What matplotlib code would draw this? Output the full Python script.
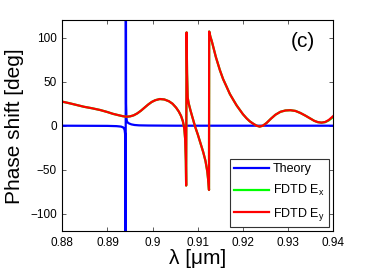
import numpy as np
import matplotlib
matplotlib.use("Agg")
import matplotlib.pyplot as plt

# ---- data ----
theory_wl = [0.8800, 0.8900, 0.8920, 0.8930, 0.8935, 0.8937, 0.8938, 0.89390, 0.89398,
             0.89403, 0.89405, 0.89412, 0.8942, 0.8943, 0.8945, 0.8948, 0.8953,
             0.8960, 0.8970, 0.8990, 0.9050, 0.9400]
theory_phase = [0.0, -0.2, -0.5, -1.0, -2.0, -3.5, -5.0, -9.0, -25.0,
                -300.0, 300.0, 25.0, 9.0, 5.0, 3.5, 2.5, 1.5,
                0.8, 0.4, 0.2, 0.0, 0.0]

ey_wl = [0.8800, 0.8816, 0.8832, 0.8848, 0.8866, 0.8884, 0.8900, 0.8912, 0.8924, 0.8934,
         0.8942, 0.8950, 0.8958, 0.8966, 0.8974, 0.8982, 0.8990, 0.8998, 0.9006, 0.9016,
         0.9026, 0.9036, 0.9044, 0.9052, 0.9058, 0.9063, 0.9067, 0.9070, 0.9072, 0.90735,
         0.90742, 0.90752, 0.90762, 0.90776, 0.9080, 0.9084, 0.9089, 0.9094, 0.9100,
         0.9106, 0.9112, 0.9117, 0.9121, 0.91235, 0.91248, 0.91252, 0.9128, 0.9131,
         0.9134, 0.9140, 0.9149, 0.9156, 0.9164, 0.9171, 0.9179, 0.9186, 0.9193, 0.9200,
         0.9208, 0.9215, 0.9222, 0.9230, 0.9237, 0.9244, 0.9252, 0.9262, 0.9272, 0.9283,
         0.9294, 0.9305, 0.9316, 0.9327, 0.9338, 0.9348, 0.9358, 0.9366, 0.9374, 0.9382,
         0.9390, 0.9400]
ey_phase = [27.3, 25.5, 23.5, 21.5, 19.8, 17.8, 15.5, 13.5, 12.0, 10.8,
            10.2, 10.6, 11.8, 14.0, 17.0, 20.5, 24.0, 27.0, 29.0, 30.3,
            29.8, 27.8, 25.0, 20.5, 16.0, 11.0, 5.0, -3.0, -15.0, -40.0,
            -68.0, 106.0, 60.0, 32.0, 25.0, 17.0, 8.0, -1.0, -10.0,
            -20.0, -30.0, -40.0, -52.0, -64.0, -73.0, 107.0, 101.0, 96.0,
            90.0, 78.0, 63.0, 53.0, 44.0, 36.0, 29.0, 23.0, 18.0, 13.0,
            8.4, 5.0, 2.5, 0.0, -1.0, 0.0, 3.0, 8.0, 12.5, 15.8,
            17.3, 17.6, 16.8, 14.5, 11.5, 8.5, 5.5, 4.0, 3.5, 4.2,
            6.5, 11.0]
ex_wl = list(ey_wl)
ex_phase = list(ey_phase[:-3]) + [4.0, 6.0, 10.0]

xticks = [0.88, 0.89, 0.90, 0.91, 0.92, 0.93, 0.94]
xtick_labels = ["0.88", "0.89", "0.9", "0.91", "0.92", "0.93", "0.94"]
yticks = [-100, -50, 0, 50, 100]

# ---- style ----
plt.rcParams['font.family'] = ['Liberation Sans', 'DejaVu Sans']
plt.rcParams['mathtext.fontset'] = 'custom'
plt.rcParams['mathtext.rm'] = 'Liberation Sans'
plt.rcParams['mathtext.it'] = 'Liberation Sans'

fig = plt.figure(figsize=(3.68, 2.73), dpi=100)
ax = fig.add_axes([0.1693, 0.1527, 0.9057 - 0.1693, 0.9264 - 0.1527])

ax.plot(theory_wl, theory_phase, color=(0, 0, 1), lw=1.6, label='Theory')
ax.plot(ex_wl, ex_phase, color=(0, 1, 0), lw=1.6, label='FDTD E$_\\mathregular{x}$')
ax.plot(ey_wl, ey_phase, color=(1, 0, 0), lw=1.6, label='FDTD E$_\\mathregular{y}$')

ax.set_xlim(0.88, 0.94)
ax.set_ylim(-120, 120)
ax.set_xticks(xticks)
ax.set_xticklabels(xtick_labels)
ax.set_yticks(yticks)
ax.set_yticklabels(["\u2212100", "\u221250", "0", "50", "100"])
ax.tick_params(direction='in', length=3, width=0.6, top=True, right=True,
               labelsize=8.5, color='#444444', pad=4)
for s in ax.spines.values():
    s.set_linewidth(0.8)

ax.set_xlabel('\u03bb [\u03bcm]', fontsize=15, labelpad=0)
ax.set_ylabel('Phase shift [deg]', fontsize=15, labelpad=4)

ax.text(0.9333, 96, '(c)', fontsize=15, ha='center', va='center')

leg = ax.legend(loc='lower right', fontsize=9, frameon=True, fancybox=False,
                framealpha=1, edgecolor='#333333', handlelength=2.8,
                handletextpad=0.3, borderpad=0.35, labelspacing=0.6,
                borderaxespad=0.35)
leg.get_frame().set_linewidth(0.8)

fig.savefig('out.png', dpi=100)
